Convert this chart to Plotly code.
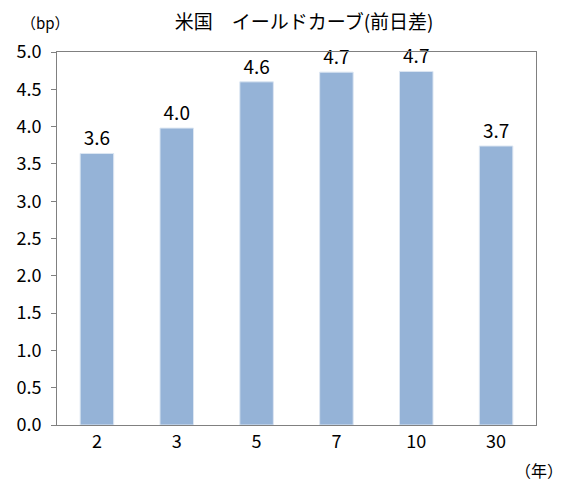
import plotly.graph_objects as go

# 年限 and 前日差 (bp)
maturities = ["2", "3", "5", "7", "10", "30"]
changes = [3.64, 3.98, 4.60, 4.73, 4.74, 3.74]

y_ticks = [0.0, 0.5, 1.0, 1.5, 2.0, 2.5, 3.0, 3.5, 4.0, 4.5, 5.0]

FONT = "Noto Sans CJK JP"

bars = go.Bar(
    x=maturities, y=changes,
    marker=dict(color="#95B3D7", line=dict(width=1, color="#DCE6F2")),
    texttemplate="%{y:.1f}", textposition="outside", cliponaxis=False,
    textfont=dict(family=FONT, size=19, color="black"),
)

fig = go.Figure(data=[bars])

# page body has an 8px margin, so the figure is a bit smaller than the window
fig.update_layout(
    width=556, height=480,
    margin=dict(l=49, r=28, t=44, b=63),
    paper_bgcolor="white", plot_bgcolor="white",
    bargap=0.58, showlegend=False,
    font=dict(family=FONT, color="black"),
    title=dict(text="米国　イールドカーブ(前日差)", xref="paper", x=0.516, xanchor="center",
               yref="container", y=0.971, yanchor="middle", font=dict(size=19)),
    annotations=[
        dict(text="（bp）", xref="paper", yref="paper", x=-0.023, y=1.08,
             xanchor="center", yanchor="middle", showarrow=False, font=dict(size=15)),
        dict(text="（年）", xref="paper", yref="paper", x=1.006, y=-0.121,
             xanchor="center", yanchor="middle", showarrow=False, font=dict(size=16)),
    ],
)

fig.update_yaxes(
    range=[0, 5.0], tickvals=y_ticks, ticktext=[f"{v:.1f}" for v in y_ticks],
    showgrid=False, zeroline=False, automargin=False,
    showline=True, linecolor="#808080", linewidth=1, mirror=True,
    ticks="outside", ticklen=5, tickcolor="#808080", ticklabelstandoff=6,
    tickfont=dict(size=18),
)
fig.update_xaxes(
    showgrid=False, showline=True, linecolor="#808080", linewidth=1, mirror=True,
    ticks="", tickfont=dict(size=18), automargin=False,
)

fig.write_html("out.html")
